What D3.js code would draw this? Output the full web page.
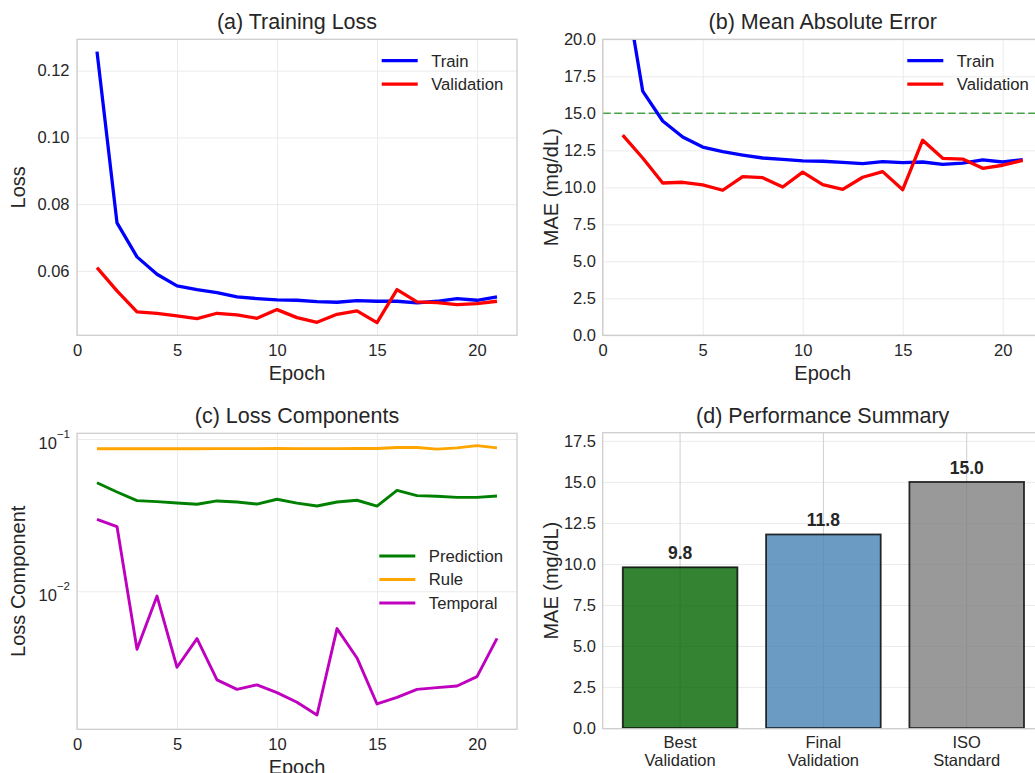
<!DOCTYPE html>
<html>
<head>
<meta charset="utf-8">
<script src="https://cdn.jsdelivr.net/npm/d3@7"></script>
<style>
  body { margin: 0; background: #fff; }
  text { font-family: "Liberation Sans", Arial, sans-serif; fill: #262626; }
</style>
</head>
<body>
<script>
// Data
const epochs = d3.range(1, 22);
const trainLoss = [0.1257, 0.0744, 0.0642, 0.0590, 0.0555, 0.0544, 0.0535, 0.0522, 0.0517, 0.0513, 0.0512,
  0.0508, 0.0506, 0.0511, 0.0509, 0.0509, 0.0504, 0.0509, 0.0517, 0.0512, 0.0522];
const valLoss = [0.0610, 0.0540, 0.0477, 0.0473, 0.0465, 0.0457, 0.0473, 0.0468, 0.0458, 0.0484, 0.0460,
  0.0446, 0.0470, 0.0480, 0.0445, 0.0544, 0.0507, 0.0505, 0.0499, 0.0502, 0.0509];
const trainMAE = [24.6, 16.5, 14.48, 13.4, 12.72, 12.41, 12.18, 11.98, 11.89, 11.78, 11.76,
  11.69, 11.60, 11.74, 11.67, 11.71, 11.55, 11.64, 11.85, 11.71, 11.87];
const valMAE = [13.53, 11.98, 10.29, 10.34, 10.16, 9.80, 10.72, 10.65, 10.02, 11.03, 10.18,
  9.86, 10.68, 11.06, 9.84, 13.18, 11.96, 11.91, 11.28, 11.49, 11.82];
const predLoss = [0.0516, 0.0449, 0.0394, 0.0388, 0.0380, 0.0373, 0.0392, 0.0386, 0.0374, 0.0402, 0.0379,
  0.0363, 0.0386, 0.0396, 0.0363, 0.0460, 0.0425, 0.0421, 0.0414, 0.0414, 0.0422];
const ruleLoss = [0.0862, 0.0862, 0.0862, 0.0863, 0.0863, 0.0863, 0.0865, 0.0865, 0.0864, 0.0866, 0.0864,
  0.0864, 0.0864, 0.0866, 0.0866, 0.0880, 0.0880, 0.0858, 0.0875, 0.0905, 0.0875];
const tempLoss = [0.0297, 0.0266, 0.00416, 0.00931, 0.00317, 0.00489, 0.00262, 0.00227, 0.00243, 0.00216, 0.00187,
  0.00154, 0.00569, 0.00365, 0.00182, 0.00201, 0.00227, 0.00233, 0.00239, 0.00275, 0.00491];
const barLabels = ["Best\nValidation", "Final\nValidation", "ISO\nStandard"];
const barValues = [9.8, 11.8, 15.0];
const barColors = ["darkgreen", "steelblue", "gray"];
const isoTarget = 15;

const svg = d3.select("body").append("svg")
  .attr("width", 1035)
  .attr("height", 773);

// Panel layout
const W = 440, H = 296;
const panels = {
  a: { x: 77, y: 39.3 },
  b: { x: 602.7, y: 39.3 },
  c: { x: 77, y: 433.3 },
  d: { x: 602.7, y: 432.7 }
};

function makePanel(key, title, ylabel, xlabel) {
  const p = panels[key];
  const g = svg.append("g").attr("transform", `translate(${p.x},${p.y})`);
  g.append("clipPath").attr("id", "clip-" + key)
    .append("rect").attr("width", W).attr("height", H);
  g.append("text")
    .attr("x", W / 2).attr("y", -10)
    .attr("text-anchor", "middle")
    .style("font-size", "21.5px")
    .text(title);
  g.append("text")
    .attr("transform", `translate(${-p.x + (key === "a" || key === "c" ? 24.5 : 557.5)},${H / 2}) rotate(-90)`)
    .attr("text-anchor", "middle")
    .style("font-size", "20px")
    .text(ylabel);
  if (xlabel) {
    g.append("text")
      .attr("x", W / 2).attr("y", H + 44.5)
      .attr("text-anchor", "middle")
      .style("font-size", "20px")
      .text(xlabel);
  }
  return g;
}

function styleAxis(sel, gridColor) {
  sel.select(".domain").remove();
  sel.selectAll(".tick line").attr("stroke", gridColor).attr("stroke-width", 1);
  sel.selectAll(".tick text").style("font-size", "16.5px").attr("fill", "#262626");
}

function drawFrame(g, w) {
  g.append("rect")
    .attr("width", w || W).attr("height", H)
    .attr("fill", "none")
    .attr("stroke", "#cccccc")
    .attr("stroke-width", 1.25);
}

function drawLegend(g, items, x0, y0, lw) {
  items.forEach(function (d, i) {
    const y = y0 + i * 23.5;
    g.append("line")
      .attr("x1", x0).attr("x2", x0 + 36)
      .attr("y1", y).attr("y2", y)
      .attr("stroke", d.color).attr("stroke-width", lw);
    g.append("text")
      .attr("x", x0 + 49.5).attr("y", y).attr("dy", "0.35em")
      .style("font-size", "16.7px")
      .text(d.name);
  });
}

function drawLine(g, key, x, y, values, color, lw) {
  const line = d3.line()
    .x(function (d, i) { return x(epochs[i]); })
    .y(function (d) { return y(d); });
  g.append("path")
    .datum(values)
    .attr("clip-path", `url(#clip-${key})`)
    .attr("fill", "none")
    .attr("stroke", color)
    .attr("stroke-width", lw)
    .attr("stroke-linejoin", "round")
    .attr("d", line);
}

const xEpoch = d3.scaleLinear().domain([0, 22]).range([0, W]);

function xGrid(g) {
  g.append("g")
    .attr("transform", `translate(0,${H})`)
    .call(d3.axisBottom(xEpoch).tickValues([0, 5, 10, 15, 20]).tickSize(-H).tickPadding(8.5))
    .call(styleAxis, "#ebebeb");
}

// (a) Training Loss
{
  const g = makePanel("a", "(a) Training Loss", "Loss", "Epoch");
  const y = d3.scaleLinear().domain([0.0407, 0.1294]).range([H, 0]);
  xGrid(g);
  g.append("g")
    .call(d3.axisLeft(y).tickValues([0.06, 0.08, 0.10, 0.12]).tickFormat(d3.format(".2f")).tickSize(-W).tickPadding(7.5))
    .call(styleAxis, "#ebebeb");
  drawLine(g, "a", xEpoch, y, trainLoss, "#0000ff", 3.3);
  drawLine(g, "a", xEpoch, y, valLoss, "#ff0000", 3.3);
  drawFrame(g);
  drawLegend(g, [{ name: "Train", color: "#0000ff" }, { name: "Validation", color: "#ff0000" }], 304.7, 21.4, 3.3);
}

// (b) Mean Absolute Error
{
  const g = makePanel("b", "(b) Mean Absolute Error", "MAE (mg/dL)", "Epoch");
  const y = d3.scaleLinear().domain([0, 20]).range([H, 0]);
  xGrid(g);
  g.append("g")
    .call(d3.axisLeft(y).tickValues(d3.range(0, 20.1, 2.5)).tickFormat(d3.format(".1f")).tickSize(-W).tickPadding(6.7))
    .call(styleAxis, "#ebebeb");
  g.append("line")
    .attr("x1", 0).attr("x2", W)
    .attr("y1", y(isoTarget)).attr("y2", y(isoTarget))
    .attr("stroke", "green").attr("stroke-opacity", 0.7)
    .attr("stroke-width", 1.6)
    .attr("stroke-dasharray", "8,3.5");
  drawLine(g, "b", xEpoch, y, trainMAE, "#0000ff", 3.3);
  drawLine(g, "b", xEpoch, y, valMAE, "#ff0000", 3.3);
  drawFrame(g);
  drawLegend(g, [{ name: "Train", color: "#0000ff" }, { name: "Validation", color: "#ff0000" }], 304.6, 21.4, 3.3);
}

// (c) Loss Components (log scale)
{
  const g = makePanel("c", "(c) Loss Components", "Loss Component", "Epoch");
  const y = d3.scaleLog().domain([0.00126, 0.109]).range([H - 1, 0]);
  xGrid(g);
  const ya = g.append("g")
    .call(d3.axisLeft(y).tickValues([0.01, 0.1]).tickSize(-W).tickPadding(7))
    .call(styleAxis, "#ebebeb");
  ya.selectAll(".tick text").text(null).attr("dy", "0.58em").each(function (d) {
    const t = d3.select(this);
    t.append("tspan").text("10");
    t.append("tspan").attr("dy", -11).style("font-size", "11.5px").text("\u2212" + Math.round(-Math.log10(d)));
  });
  drawLine(g, "c", xEpoch, y, predLoss, "#008000", 2.9);
  drawLine(g, "c", xEpoch, y, ruleLoss, "#ffa500", 2.9);
  drawLine(g, "c", xEpoch, y, tempLoss, "#bf00bf", 2.9);
  drawFrame(g);
  drawLegend(g, [
    { name: "Prediction", color: "#008000" },
    { name: "Rule", color: "#ffa500" },
    { name: "Temporal", color: "#bf00bf" }
  ], 302.3, 122.7, 2.9);
}

// (d) Performance Summary
{
  const g = makePanel("d", "(d) Performance Summary", "MAE (mg/dL)", null);
  const Wd = 441.4;
  const x = d3.scaleBand().domain(barLabels).range([0, Wd]).paddingInner(0.2).paddingOuter(0.14);
  const y = d3.scaleLinear().domain([0, 18]).range([H - 0.6, 0]);
  g.append("g")
    .call(d3.axisLeft(y).tickValues(d3.range(0, 17.6, 2.5)).tickFormat(d3.format(".1f")).tickSize(-Wd).tickPadding(6.7))
    .call(styleAxis, "#ebebeb");
  const xa = g.append("g")
    .attr("transform", `translate(0,${H})`)
    .call(d3.axisBottom(x).tickSize(-H).tickPadding(7.5))
    .call(styleAxis, "#cfcfcf");
  xa.selectAll(".tick text").text(null).each(function (d) {
    const t = d3.select(this);
    d.split("\n").forEach(function (s, i) {
      t.append("tspan").attr("x", 0).attr("dy", i === 0 ? "0.71em" : "1.1em").text(s);
    });
  });
  g.selectAll(".bar")
    .data(barValues)
    .enter()
    .append("rect")
    .attr("class", "bar")
    .attr("x", function (d, i) { return x(barLabels[i]); })
    .attr("width", x.bandwidth())
    .attr("y", function (d) { return y(d); })
    .attr("height", function (d) { return y(0) - y(d); })
    .attr("fill", function (d, i) { return barColors[i]; })
    .attr("fill-opacity", 0.8)
    .attr("stroke", "#000")
    .attr("stroke-opacity", 0.8)
    .attr("stroke-width", 1.8);
  g.selectAll(".bar-label")
    .data(barValues)
    .enter()
    .append("text")
    .attr("class", "bar-label")
    .attr("x", function (d, i) { return x(barLabels[i]) + x.bandwidth() / 2; })
    .attr("y", function (d) { return y(d) - 8; })
    .attr("text-anchor", "middle")
    .style("font-size", "17.5px")
    .style("font-weight", "bold")
    .text(function (d) { return d.toFixed(1); });
  drawFrame(g, Wd);
}
</script>
</body>
</html>
